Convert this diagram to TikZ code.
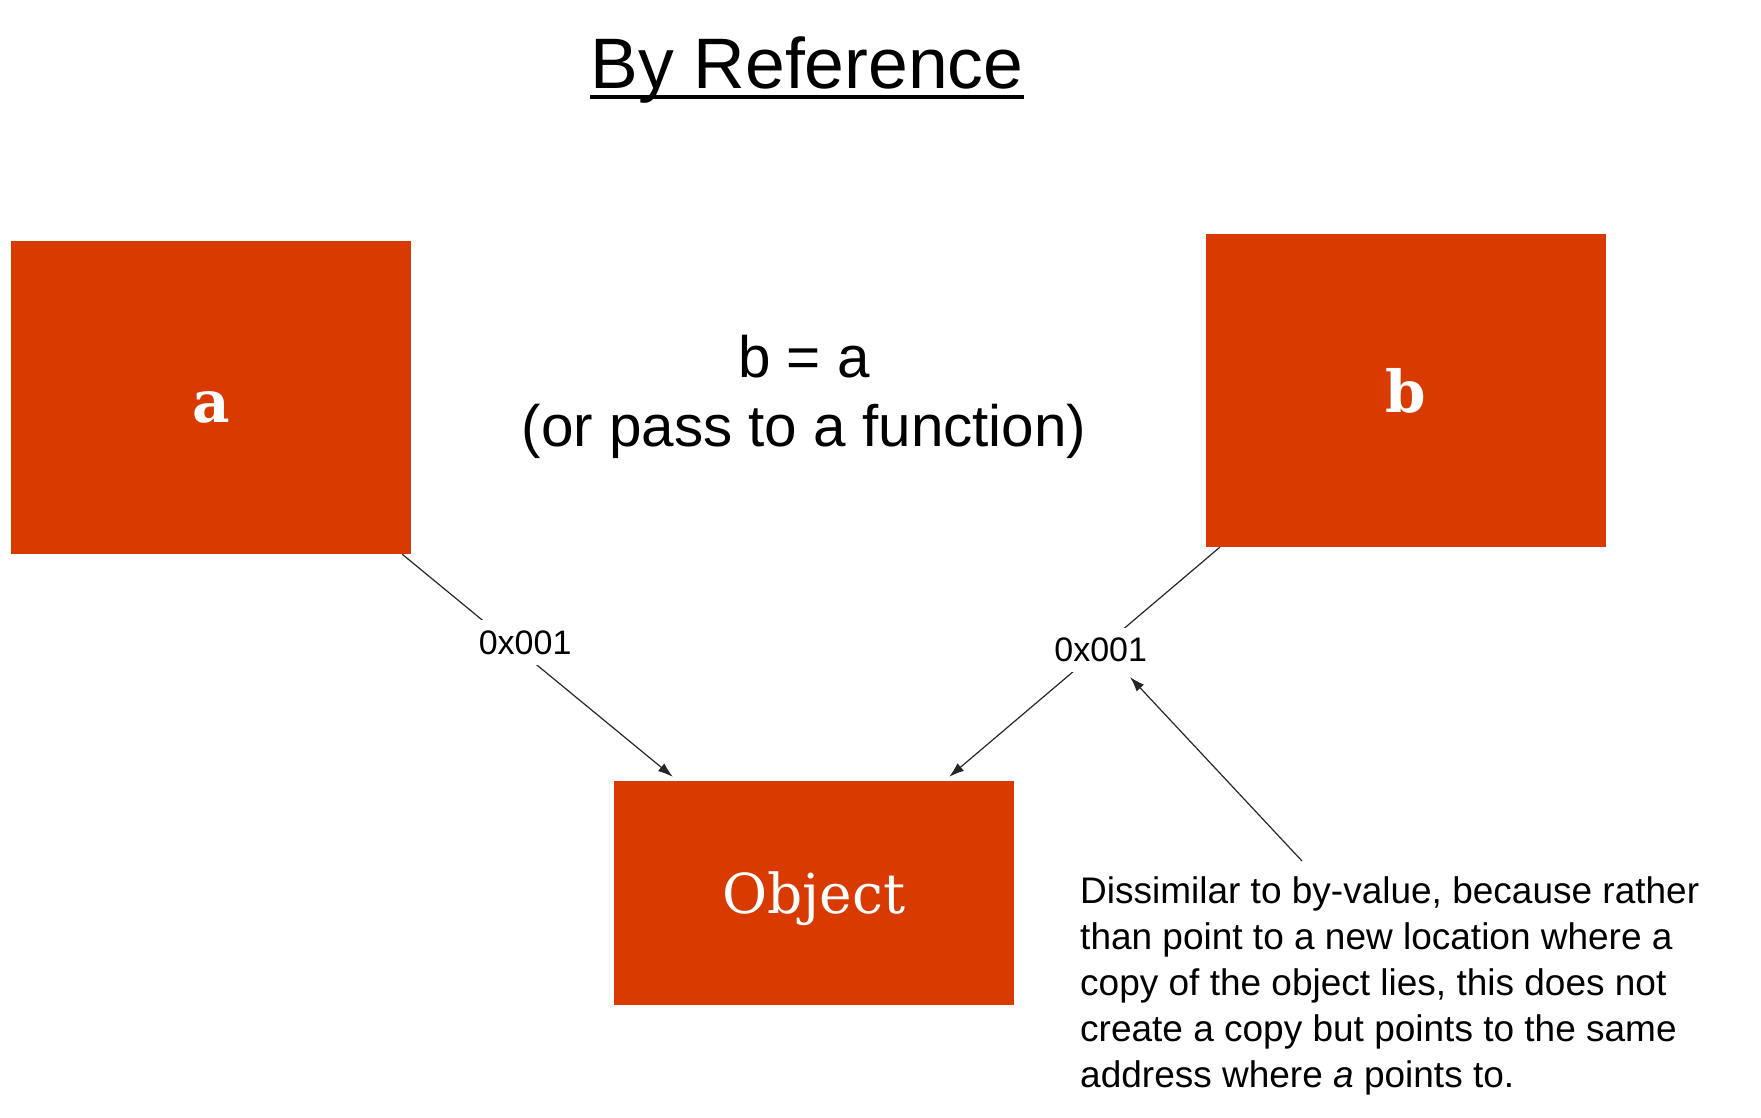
\documentclass[tikz,border=0pt]{standalone}
\usepackage{fontspec}
\setmainfont{Liberation Sans}
\newfontfamily\slab{DejaVu Serif}
\usetikzlibrary{arrows.meta}
\definecolor{boxred}{RGB}{216,58,0}
\tikzset{
  redbox/.style={fill=boxred, draw=none, inner sep=0pt, text=white, font=\slab\fontsize{58}{60}\selectfont\bfseries},
  arr/.style={draw=black!85, line width=1.2pt, -{Latex[length=15pt,width=10pt]}},
  addr/.style={fill=white, inner xsep=4pt, inner ysep=10pt, font=\fontsize{34}{36}\selectfont, text=black},
}
\begin{document}
\begin{tikzpicture}[x=1pt,y=-1pt]
\useasboundingbox (0,0) rectangle (1761,1117);
% title
\node[anchor=base, inner sep=0pt, font=\fontsize{71.5}{80}\selectfont] (title) at (807,88) {By Reference};
\draw[line width=4pt] ([yshift=-9pt]title.base west) -- ([yshift=-9pt]title.base east);
% boxes
\node[redbox, minimum width=400pt, minimum height=313pt, text height=50pt, text depth=0pt] (a) at (211,397.5) {a};
\node[redbox, minimum width=400pt, minimum height=313pt] (b) at (1406,390.5) {b};
\node[redbox, minimum width=400pt, minimum height=224pt, text height=42pt, text depth=1pt, font=\slab\fontsize{55}{60}\selectfont] (obj) at (814,893) {Object};
% middle text
\node[anchor=north, inner sep=0pt, align=center, font=\fontsize{58.4}{69}\selectfont] (assign) at (804,335) {b = a\\(or pass to a function)};
% connectors
\draw[arr] ([xshift=-9pt]a.south east) -- node[addr, pos=0.41, xshift=12pt, yshift=3pt] (l1) {0x001} ([xshift=59pt,yshift=4pt]obj.north west);
\draw[arr] ([xshift=14pt]b.south west) -- node[addr, pos=0.44, yshift=-2pt] (l2) {0x001} ([xshift=-65pt,yshift=4pt]obj.north east);
% note
\node[anchor=north west, inner sep=0pt, align=left, font=\fontsize{37}{46}\selectfont] (note) at (1080,876)
  {Dissimilar to by-value, because rather\\than point to a new location where a\\copy of the object lies, this does not\\create a copy but points to the same\\address where \textit{a} points to.};
\coordinate (nstart) at (1302,861);
\coordinate (ntip) at (1130,677);
\draw[arr] (nstart) -- (ntip);
\end{tikzpicture}
\end{document}
